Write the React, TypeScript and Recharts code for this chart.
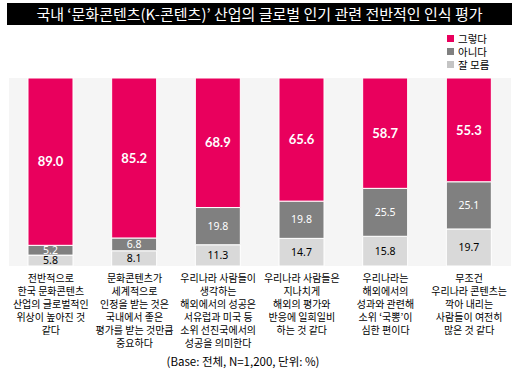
import { BarChart, Bar, XAxis, YAxis, CartesianGrid, LabelList } from "recharts";

const categories = [
  "전반적으로\n한국 문화콘텐츠\n산업의 글로벌적인\n위상이 높아진 것\n같다",
  "문화콘텐츠가\n세계적으로\n인정을 받는 것은\n국내에서 좋은\n평가를 받는 것만큼\n중요하다",
  "우리나라 사람들이\n생각하는\n해외에서의 성공은\n서유럽과 미국 등\n소위 선진국에서의\n성공을 의미한다",
  "우리나라 사람들은\n지나치게\n해외의 평가와\n반응에 일희일비\n하는 것 같다",
  "우리나라는\n해외에서의\n성과와 관련해\n소위 ‘국뽕’이\n심한 편이다",
  "무조건\n우리나라 콘텐츠는\n깍아 내리는\n사람들이 여전히\n많은 것 같다",
];

const yesValues = [89.0, 85.2, 68.9, 65.6, 58.7, 55.3];
const noValues = [5.2, 6.8, 19.8, 19.8, 25.5, 25.1];
const unsureValues = [5.8, 8.1, 11.3, 14.7, 15.8, 19.7];

const seriesNames = ["그렇다", "아니다", "잘 모름"];
const seriesColors = ["#E9005D", "#808080", "#D9D9D9"];
const legendSwatch = ["#E9005D", "#808080", "#C4C4C4"];

const data = categories.map((c, i) => ({
  category: c,
  yes: yesValues[i],
  no: noValues[i],
  unsure: unsureValues[i],
}));

const KR_FONT = "'Noto Sans CJK KR', 'Noto Sans', sans-serif";

interface TickProps {
  x?: number;
  y?: number;
  payload?: { value?: string };
}

// one <text> per line so the wrapped labels don't sit inside a single box
const renderCategoryTick = ({ x = 0, y = 0, payload }: TickProps) => {
  const lines = String(payload?.value ?? "").split("\n");
  return (
    <g>
      {lines.map((line, i) => (
        <text key={i} x={x} y={y + 15.5 + i * 13} textAnchor="middle" fill="#000" fontSize={10} fontFamily={KR_FONT}>
          {line}
        </text>
      ))}
    </g>
  );
};

function ChartLegend() {
  return (
    <div style={{ position: "absolute", left: 447, top: 32, fontFamily: KR_FONT, fontSize: 10.5, lineHeight: "13px", color: "#000" }}>
      {seriesNames.map((name, i) => (
        <div key={name} style={{ display: "flex", alignItems: "center" }}>
          <span style={{ display: "inline-block", width: 7, height: 7, background: legendSwatch[i], marginRight: 4 }} />
          <span>{name}</span>
        </div>
      ))}
    </div>
  );
}

export default function App() {
  return (
    <div style={{ position: "absolute", left: 0, top: 0, width: 520, height: 373, background: "#fff", overflow: "hidden" }}>
      <div
        style={{
          position: "absolute",
          left: 7,
          top: 3,
          width: 505,
          height: 22,
          background: "#000",
          color: "#fff",
          fontFamily: KR_FONT,
          fontSize: 15,
          lineHeight: "22px",
          textAlign: "center",
        }}
      >
        국내 ‘문화콘텐츠(K-콘텐츠)’ 산업의 글로벌 인기 관련 전반적인 인식 평가
      </div>
      <ChartLegend />
      <div style={{ position: "absolute", left: 0, top: 0 }}>
        <BarChart width={520} height={373} data={data} margin={{ top: 78, right: 9, left: 9, bottom: 0 }} barSize={45}>
          <CartesianGrid fill="#F5F5F5" stroke="none" horizontal={false} vertical={false} />
          <XAxis dataKey="category" height={107} axisLine={false} tickLine={false} tickSize={0} tickMargin={0} interval={0} tick={renderCategoryTick} />
          <YAxis hide domain={[0, 100]} allowDataOverflow />
          <Bar dataKey="unsure" name={seriesNames[2]} stackId="a" fill={seriesColors[2]} stroke="#fff" strokeWidth={1} isAnimationActive={false}>
            <LabelList dataKey="unsure" position="center" fill="#000" fontSize={10.5} fontFamily="'Noto Sans', sans-serif" formatter={(v: number) => v.toFixed(1)} />
          </Bar>
          <Bar dataKey="no" name={seriesNames[1]} stackId="a" fill={seriesColors[1]} stroke="#fff" strokeWidth={1} isAnimationActive={false}>
            <LabelList dataKey="no" position="center" fill="#fff" fontSize={10.5} fontFamily="'Noto Sans', sans-serif" formatter={(v: number) => v.toFixed(1)} />
          </Bar>
          <Bar dataKey="yes" name={seriesNames[0]} stackId="a" fill={seriesColors[0]} stroke="#fff" strokeWidth={1} isAnimationActive={false}>
            <LabelList dataKey="yes" position="center" fill="#fff" fontSize={13} fontWeight={700} fontFamily="Lato, sans-serif" formatter={(v: number) => v.toFixed(1)} />
          </Bar>
        </BarChart>
      </div>
      <div
        style={{
          position: "absolute",
          left: 123,
          top: 354,
          width: 240,
          textAlign: "center",
          fontFamily: KR_FONT,
          fontSize: 11.5,
          lineHeight: "14px",
          color: "#000",
        }}
      >
        (Base: 전체, N=1,200, 단위: %)
      </div>
    </div>
  );
}
